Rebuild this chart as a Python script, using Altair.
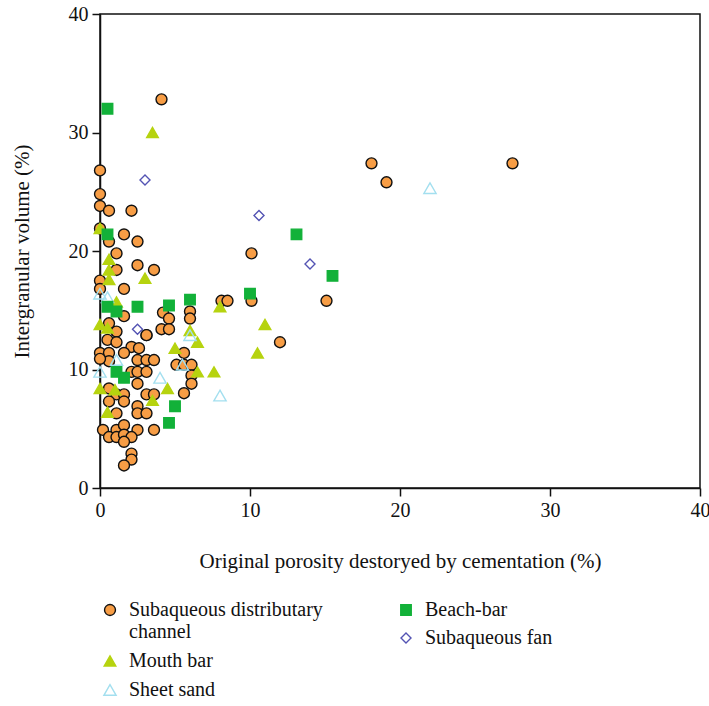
import altair as alt
import pandas as pd

# Subaqueous distributary channel
sdc_x = [4.1, 0.0, 0.0, 0.0, 0.6, 2.1, 0.0, 0.6, 1.6, 2.5, 1.1, 2.5, 3.6, 1.1, 0.0, 0.0, 1.6,
         4.2, 4.6, 6.0, 6.0, 1.6, 0.6, 1.1, 4.1, 4.6, 3.1, 0.5, 1.1, 2.1, 2.6, 3.1,
         0.0, 0.6, 1.6, 2.5, 3.1, 3.6, 0.6, 5.6, 5.1, 5.6, 6.1, 2.1, 2.5, 3.1, 6.1, 2.5,
         0.6, 6.1, 5.6, 1.1, 1.6, 3.1, 3.6, 0.6, 1.6, 2.5, 2.5, 3.1, 1.1, 0.2, 1.1, 1.6,
         2.5, 3.6, 0.6, 1.1, 1.6, 2.1, 1.6, 2.1, 2.1, 1.6, 0.0,
         8.1, 8.5, 10.1, 15.1, 12.0, 10.1, 18.1, 19.1, 27.5]
sdc_y = [32.8, 26.8, 24.8, 23.8, 23.4, 23.4, 21.9, 20.8, 21.4, 20.8, 19.8, 18.8, 18.4, 18.4, 17.5, 16.8, 16.8,
         14.8, 14.3, 14.9, 14.3, 14.5, 13.9, 13.2, 13.4, 13.4, 12.9, 12.5, 12.3, 11.9, 11.8, 12.9,
         11.4, 11.4, 11.4, 10.8, 10.8, 10.8, 10.7, 11.4, 10.4, 10.4, 10.4, 9.8, 9.8, 9.8, 9.5, 8.8,
         8.4, 8.8, 8.0, 7.9, 7.9, 7.9, 7.9, 7.3, 7.3, 6.9, 6.3, 6.3, 6.3, 4.9, 4.9, 5.3,
         4.9, 4.9, 4.3, 4.3, 4.5, 4.3, 3.9, 2.9, 2.4, 1.9, 10.9,
         15.8, 15.8, 15.8, 15.8, 12.3, 19.8, 27.4, 25.8, 27.4]

# Mouth bar
mb_x = [3.5, 0.0, 0.6, 0.6, 0.6, 3.0, 1.1, 0.0, 0.5, 5.0, 6.5, 6.5, 4.5, 3.5, 0.0, 1.0, 0.5, 6.0, 8.0, 11.0, 10.5, 7.6]
mb_y = [30.0, 21.9, 19.3, 18.4, 17.6, 17.7, 15.7, 13.8, 13.5, 11.8, 12.3, 9.8, 8.4, 7.4, 8.4, 8.3, 6.4, 13.3, 15.3, 13.8, 11.4, 9.8]

# Sheet sand
ss_x = [22.0, 0.0, 0.5, 0.0, 1.1, 4.0, 6.0, 8.0, 5.5]
ss_y = [25.3, 16.4, 16.1, 9.8, 10.8, 9.3, 12.9, 7.8, 10.4]

# Beach-bar
bb_x = [0.5, 0.5, 0.5, 1.1, 2.5, 4.6, 6.0, 10.0, 13.1, 15.5, 1.1, 1.6, 5.0, 4.6]
bb_y = [32.0, 21.4, 15.3, 14.9, 15.3, 15.4, 15.9, 16.4, 21.4, 17.9, 9.8, 9.3, 6.9, 5.5]

# Subaqueous fan
sf_x = [3.0, 10.6, 14.0, 2.5]
sf_y = [26.0, 23.0, 18.9, 13.4]

cats = ["Subaqueous distributary channel", "Mouth bar", "Sheet sand", "Beach-bar", "Subaqueous fan"]
shapes = {"Subaqueous distributary channel": "circle", "Beach-bar": "square", "Mouth bar": "triangle-up",
          "Subaqueous fan": "diamond", "Sheet sand": "triangle-up"}
fills = {"Subaqueous distributary channel": "#F79D45", "Beach-bar": "#12B139", "Mouth bar": "#B6D30F",
         "Subaqueous fan": "transparent", "Sheet sand": "transparent"}
strokes = {"Subaqueous distributary channel": "#111111", "Beach-bar": "#12B139", "Mouth bar": "#B6D30F",
           "Subaqueous fan": "#5353B3", "Sheet sand": "#A3DFEF"}
sizes = {"Subaqueous distributary channel": 120, "Beach-bar": 110, "Mouth bar": 150,
         "Subaqueous fan": 100, "Sheet sand": 170}

rows = []
for name, xs, ys in [(cats[0], sdc_x, sdc_y), (cats[1], mb_x, mb_y), (cats[2], ss_x, ss_y),
                     (cats[3], bb_x, bb_y), (cats[4], sf_x, sf_y)]:
    for a, b in zip(xs, ys):
        rows.append({"type": name, "x": a, "y": b, "ord": cats.index(name)})
df = pd.DataFrame(rows)

FONT = "Liberation Serif"
LABEL_EXPR = ("datum.label == 'Subaqueous distributary channel' ? "
              "['Subaqueous distributary', 'channel'] : datum.label")

xenc = alt.X("x:Q", scale=alt.Scale(domain=[0, 40], nice=False),
             axis=alt.Axis(values=[0, 10, 20, 30, 40], title="Original porosity destoryed by cementation (%)",
                           titlePadding=30, labelFlush=False))
yenc = alt.Y("y:Q", scale=alt.Scale(domain=[0, 40], nice=False),
             axis=alt.Axis(values=[0, 10, 20, 30, 40], title="Intergranular volume (%)", titlePadding=36,
                           labelFlush=False))


def layer(group, legx, rowpad):
    leg = alt.Legend(title=None, orient="none", legendX=legx, legendY=586, rowPadding=rowpad,
                     labelFont=FONT, labelFontSize=20, labelColor="#111111", labelLimit=400,
                     labelOffset=9, symbolStrokeWidth=1.4, labelExpr=LABEL_EXPR)
    sub = df[df["type"].isin(group)]
    return alt.Chart(sub).mark_point(filled=False, strokeWidth=1.4, opacity=1).encode(
        x=xenc, y=yenc,
        shape=alt.Shape("type:N", scale=alt.Scale(domain=group, range=[shapes[c] for c in group]), legend=leg),
        fill=alt.Fill("type:N", scale=alt.Scale(domain=group, range=[fills[c] for c in group]), legend=leg),
        stroke=alt.Stroke("type:N", scale=alt.Scale(domain=group, range=[strokes[c] for c in group]), legend=leg),
        size=alt.Size("type:N", scale=alt.Scale(domain=group, range=[sizes[c] for c in group]), legend=leg),
        order=alt.Order("ord:Q"),
    )


left = layer(cats[:3], 0, 9)
right = layer(cats[3:], 296, 8)

chart = alt.layer(left, right).resolve_scale(
    shape="independent", fill="independent", stroke="independent", size="independent"
).resolve_legend(
    shape="independent", fill="independent", stroke="independent", size="independent"
).properties(
    width=600, height=474,
    autosize=alt.AutoSizeParams(type="none"),
    padding={"left": 100, "top": 14, "right": 9, "bottom": 218},
).configure_view(
    stroke="#111111", strokeWidth=1.5
).configure_axis(
    grid=False, domainColor="#111111", domainWidth=1.5, tickColor="#111111", tickWidth=1.5, tickSize=8,
    labelFont=FONT, labelFontSize=20, labelColor="#111111", labelPadding=4,
    titleFont=FONT, titleFontSize=21, titleFontWeight="normal", titleColor="#111111",
).configure_legend(
    labelFont=FONT, labelFontSize=20, labelColor="#111111", labelLimit=400
)

chart.save("out.html", embed_options={"renderer": "svg", "actions": False})
